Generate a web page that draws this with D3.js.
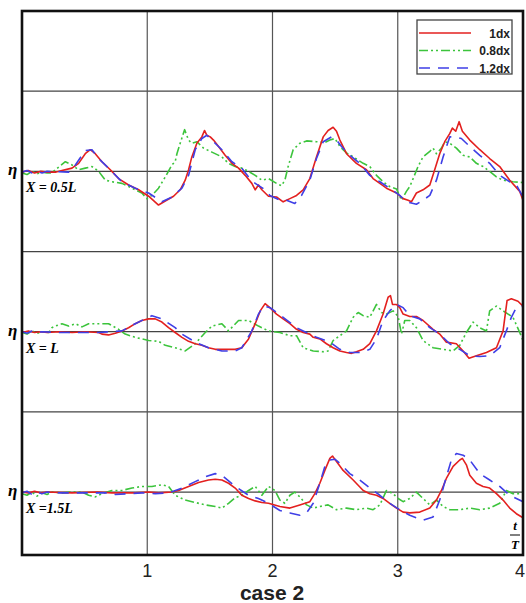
<!DOCTYPE html>
<html>
<head>
<meta charset="utf-8">
<script src="https://cdn.jsdelivr.net/npm/d3@7"></script>
<style>
  body { margin: 0; background: #fff; }
  svg { display: block; }
</style>
</head>
<body>
<script>
// wave elevation at three gauges, three grid sizes (case 2)
const xTicks = [1, 2, 3, 4];
const seriesNames = ["1dx", "0.8dx", "1.2dx"];
const gaugeLabels = ["X = 0.5L", "X = L", "X =1.5L"];
const gaugeOffsets = [0, -2, -4];

// X = 0.5L
const red1 = [[0,-0.01],[0.05,0.01],[0.1,-0.02],[0.15,0.0],[0.2,-0.01],[0.266,-0.01],[0.319,0.01],[0.399,0.04],[0.452,0.10],[0.505,0.22],[0.545,0.27],[0.585,0.22],[0.638,0.12],[0.705,0.02],[0.771,-0.09],[0.851,-0.17],[0.931,-0.23],[1.011,-0.31],[1.090,-0.42],[1.144,-0.37],[1.210,-0.31],[1.263,-0.23],[1.303,-0.11],[1.330,0.02],[1.356,0.18],[1.396,0.35],[1.436,0.43],[1.457,0.51],[1.476,0.45],[1.503,0.43],[1.529,0.39],[1.569,0.31],[1.622,0.20],[1.676,0.10],[1.729,0.04],[1.782,-0.05],[1.835,-0.15],[1.862,-0.23],[1.888,-0.17],[1.915,-0.23],[1.968,-0.31],[2.032,-0.32],[2.085,-0.38],[2.139,-0.34],[2.192,-0.30],[2.245,-0.23],[2.298,-0.09],[2.351,0.18],[2.405,0.43],[2.444,0.51],[2.484,0.55],[2.511,0.50],[2.538,0.39],[2.591,0.22],[2.670,0.10],[2.750,0.02],[2.803,-0.09],[2.857,-0.15],[2.910,-0.21],[2.990,-0.27],[3.043,-0.34],[3.083,-0.36],[3.109,-0.38],[3.149,-0.27],[3.202,-0.23],[3.256,-0.17],[3.295,0.02],[3.335,0.22],[3.375,0.37],[3.415,0.47],[3.436,0.54],[3.463,0.50],[3.490,0.62],[3.516,0.50],[3.575,0.39],[3.655,0.27],[3.734,0.16],[3.814,0.06],[3.894,-0.11],[3.974,-0.25],[4.0,-0.36]];
const green1 = [[0,-0.02],[0.04,-0.04],[0.08,0.0],[0.12,-0.03],[0.16,-0.01],[0.2,-0.02],[0.239,-0.02],[0.266,0.02],[0.346,0.12],[0.399,0.08],[0.452,0.02],[0.505,0.04],[0.559,0.06],[0.612,0.0],[0.665,-0.11],[0.718,-0.13],[0.798,-0.15],[0.878,-0.21],[0.957,-0.27],[0.997,-0.34],[1.037,-0.30],[1.090,-0.21],[1.144,-0.07],[1.197,0.08],[1.223,0.12],[1.237,0.22],[1.263,0.35],[1.298,0.52],[1.330,0.39],[1.356,0.35],[1.396,0.37],[1.449,0.29],[1.516,0.24],[1.596,0.18],[1.649,0.10],[1.702,0.06],[1.755,0.04],[1.809,0.0],[1.862,-0.05],[1.915,-0.11],[1.968,-0.09],[2.032,-0.15],[2.072,-0.18],[2.099,-0.11],[2.125,0.06],[2.165,0.27],[2.218,0.35],[2.272,0.38],[2.351,0.37],[2.418,0.36],[2.458,0.39],[2.498,0.41],[2.538,0.31],[2.591,0.23],[2.644,0.18],[2.724,0.10],[2.777,0.06],[2.830,-0.05],[2.883,-0.13],[2.936,-0.19],[2.990,-0.22],[3.030,-0.36],[3.069,-0.25],[3.096,-0.19],[3.123,-0.09],[3.162,0.06],[3.202,0.18],[3.256,0.25],[3.282,0.29],[3.309,0.22],[3.349,0.29],[3.375,0.37],[3.415,0.35],[3.468,0.29],[3.522,0.20],[3.575,0.18],[3.628,0.10],[3.681,0.06],[3.734,0.0],[3.788,-0.07],[3.841,-0.11],[3.920,-0.13],[4.0,-0.14]];
const blue1 = [[0,-0.01],[0.04,0.01],[0.08,-0.02],[0.12,0.0],[0.16,-0.02],[0.2,0.0],[0.372,-0.01],[0.426,0.08],[0.505,0.26],[0.559,0.27],[0.612,0.16],[0.691,0.04],[0.798,-0.13],[0.904,-0.21],[1.011,-0.27],[1.117,-0.38],[1.197,-0.32],[1.277,-0.21],[1.330,-0.05],[1.383,0.27],[1.436,0.41],[1.476,0.45],[1.529,0.37],[1.596,0.27],[1.676,0.12],[1.755,0.04],[1.809,-0.07],[1.862,-0.15],[1.941,-0.23],[1.979,-0.30],[2.059,-0.36],[2.112,-0.36],[2.178,-0.40],[2.232,-0.30],[2.298,-0.11],[2.351,0.16],[2.405,0.37],[2.471,0.43],[2.511,0.39],[2.551,0.31],[2.617,0.20],[2.697,0.10],[2.777,-0.05],[2.857,-0.13],[2.936,-0.21],[3.016,-0.30],[3.069,-0.38],[3.149,-0.41],[3.202,-0.36],[3.256,-0.30],[3.309,-0.11],[3.362,0.18],[3.415,0.43],[3.455,0.43],[3.508,0.41],[3.575,0.31],[3.655,0.20],[3.734,0.10],[3.814,-0.05],[3.894,-0.13],[3.947,-0.17],[4.0,-0.32]];

// X = L
const red2 = [[0,-0.01],[0.05,0.01],[0.1,-0.01],[0.15,0.0],[0.2,-0.01],[0.3,0.0],[0.4,-0.01],[0.5,0.0],[0.612,-0.01],[0.638,-0.03],[0.691,-0.04],[0.745,-0.02],[0.798,0.01],[0.851,0.05],[0.904,0.10],[0.957,0.14],[1.011,0.16],[1.064,0.16],[1.117,0.12],[1.170,0.05],[1.223,-0.01],[1.277,-0.07],[1.330,-0.12],[1.383,-0.15],[1.436,-0.17],[1.489,-0.20],[1.543,-0.22],[1.596,-0.22],[1.649,-0.22],[1.702,-0.22],[1.755,-0.20],[1.809,-0.09],[1.862,0.10],[1.902,0.26],[1.941,0.35],[1.979,0.30],[2.032,0.22],[2.085,0.16],[2.139,0.10],[2.192,0.03],[2.245,-0.01],[2.298,-0.03],[2.325,-0.07],[2.378,-0.09],[2.431,-0.15],[2.484,-0.20],[2.538,-0.24],[2.591,-0.26],[2.631,-0.27],[2.670,-0.25],[2.724,-0.22],[2.777,-0.15],[2.830,0.01],[2.883,0.22],[2.923,0.43],[2.942,0.45],[2.958,0.34],[2.990,0.34],[3.016,0.30],[3.043,0.22],[3.096,0.19],[3.149,0.19],[3.202,0.14],[3.282,0.03],[3.335,-0.03],[3.388,-0.13],[3.468,-0.15],[3.522,-0.24],[3.569,-0.33],[3.628,-0.30],[3.708,-0.26],[3.788,-0.20],[3.841,0.01],[3.873,0.39],[3.907,0.41],[3.960,0.38],[4.0,0.32]];
const green2 = [[0,-0.01],[0.04,-0.03],[0.08,0.01],[0.12,-0.02],[0.16,0.0],[0.213,-0.01],[0.239,0.05],[0.266,0.07],[0.319,0.10],[0.372,0.07],[0.426,0.10],[0.479,0.06],[0.532,0.10],[0.612,0.10],[0.691,0.10],[0.771,0.03],[0.824,-0.03],[0.904,-0.07],[1.011,-0.11],[1.090,-0.12],[1.144,-0.17],[1.223,-0.20],[1.303,-0.24],[1.383,-0.15],[1.463,-0.01],[1.516,0.07],[1.596,0.10],[1.649,0.01],[1.729,0.14],[1.809,0.14],[1.888,0.07],[1.968,0.01],[2.059,-0.01],[2.139,-0.05],[2.192,-0.05],[2.245,-0.20],[2.325,-0.24],[2.405,-0.25],[2.444,-0.24],[2.484,-0.11],[2.538,-0.05],[2.591,0.01],[2.644,0.18],[2.684,0.24],[2.724,0.20],[2.777,0.18],[2.830,0.34],[2.870,0.24],[2.910,0.22],[2.963,0.26],[3.003,0.19],[3.030,-0.03],[3.056,0.14],[3.096,0.14],[3.149,0.05],[3.202,-0.11],[3.282,-0.20],[3.362,-0.22],[3.442,-0.24],[3.495,-0.17],[3.548,-0.01],[3.601,0.12],[3.655,0.05],[3.708,0.01],[3.734,0.26],[3.788,0.32],[3.841,0.26],[3.920,0.18],[3.974,-0.01],[4.0,-0.11]];
const blue2 = [[0,0.0],[0.04,-0.02],[0.08,0.01],[0.12,-0.01],[0.16,0.0],[0.3,-0.01],[0.612,-0.01],[0.798,0.01],[0.904,0.10],[1.037,0.20],[1.117,0.16],[1.223,0.05],[1.277,-0.03],[1.383,-0.13],[1.489,-0.20],[1.596,-0.24],[1.702,-0.24],[1.755,-0.20],[1.835,0.01],[1.888,0.22],[1.928,0.32],[1.981,0.30],[2.032,0.24],[2.085,0.18],[2.192,0.05],[2.245,0.01],[2.351,-0.07],[2.458,-0.13],[2.538,-0.22],[2.617,-0.26],[2.697,-0.26],[2.777,-0.22],[2.830,-0.09],[2.883,0.14],[2.936,0.26],[2.990,0.34],[3.043,0.30],[3.096,0.20],[3.176,0.16],[3.256,0.05],[3.335,-0.03],[3.415,-0.15],[3.495,-0.22],[3.575,-0.30],[3.655,-0.31],[3.734,-0.30],[3.814,-0.20],[3.867,0.01],[3.907,0.18],[3.947,0.30],[4.0,0.32]];

// X = 1.5L
const red3 = [[0,0.0],[0.05,-0.01],[0.1,0.01],[0.15,-0.01],[0.2,0.0],[0.4,-0.01],[0.6,0.0],[0.718,-0.01],[0.904,-0.01],[1.011,0.0],[1.090,-0.01],[1.197,0.0],[1.250,0.02],[1.330,0.07],[1.410,0.12],[1.489,0.15],[1.543,0.16],[1.596,0.15],[1.649,0.11],[1.702,0.05],[1.755,-0.04],[1.809,-0.08],[1.862,-0.11],[1.915,-0.13],[1.968,-0.14],[2.059,-0.18],[2.139,-0.20],[2.218,-0.16],[2.298,-0.12],[2.338,-0.02],[2.378,0.11],[2.418,0.27],[2.458,0.42],[2.479,0.45],[2.511,0.38],[2.564,0.27],[2.644,0.15],[2.724,0.02],[2.777,-0.02],[2.830,-0.04],[2.883,-0.08],[2.936,-0.14],[2.990,-0.20],[3.043,-0.25],[3.096,-0.26],[3.176,-0.25],[3.256,-0.20],[3.309,-0.10],[3.349,0.02],[3.388,0.17],[3.442,0.32],[3.495,0.40],[3.516,0.42],[3.548,0.34],[3.575,0.21],[3.628,0.11],[3.681,0.07],[3.734,0.05],[3.788,-0.02],[3.841,-0.10],[3.894,-0.20],[3.947,-0.27],[4.0,-0.32]];
const green3 = [[0,-0.02],[0.04,-0.04],[0.08,0.0],[0.12,-0.05],[0.16,-0.01],[0.2,-0.03],[0.24,0.0],[0.319,-0.01],[0.399,0.0],[0.479,0.0],[0.532,-0.04],[0.585,-0.06],[0.638,-0.02],[0.718,0.02],[0.798,0.02],[0.878,0.05],[0.957,0.07],[1.037,0.07],[1.117,0.09],[1.170,0.07],[1.223,-0.04],[1.303,-0.10],[1.383,-0.13],[1.463,-0.16],[1.543,-0.18],[1.596,-0.20],[1.649,-0.14],[1.702,-0.07],[1.755,-0.04],[1.809,0.02],[1.862,0.07],[1.915,-0.04],[1.968,0.07],[2.019,0.02],[2.059,-0.10],[2.099,-0.14],[2.139,-0.04],[2.178,0.0],[2.218,-0.06],[2.272,-0.16],[2.325,-0.20],[2.378,-0.18],[2.444,-0.16],[2.511,-0.22],[2.591,-0.20],[2.670,-0.22],[2.750,-0.20],[2.803,-0.22],[2.857,-0.16],[2.910,0.02],[2.963,-0.02],[3.003,-0.08],[3.043,-0.12],[3.096,-0.08],[3.149,0.0],[3.202,-0.08],[3.256,-0.16],[3.309,-0.10],[3.362,-0.18],[3.415,-0.22],[3.495,-0.22],[3.575,-0.20],[3.655,-0.22],[3.734,-0.20],[3.814,-0.14],[3.867,0.02],[3.920,-0.02],[3.974,-0.02],[4.0,0.0]];
const blue3 = [[0,-0.01],[0.04,0.01],[0.08,-0.03],[0.12,0.0],[0.16,-0.02],[0.2,0.0],[0.3,-0.01],[0.5,-0.01],[0.691,-0.01],[0.745,-0.03],[0.851,-0.02],[0.957,-0.01],[1.064,-0.02],[1.170,-0.01],[1.277,0.05],[1.383,0.13],[1.463,0.19],[1.543,0.23],[1.596,0.21],[1.702,0.07],[1.809,-0.04],[1.888,-0.08],[1.968,-0.14],[2.059,-0.23],[2.139,-0.26],[2.218,-0.29],[2.272,-0.26],[2.325,-0.14],[2.378,0.11],[2.418,0.32],[2.458,0.40],[2.498,0.41],[2.538,0.36],[2.617,0.23],[2.697,0.15],[2.777,0.05],[2.857,-0.04],[2.936,-0.14],[3.016,-0.22],[3.096,-0.29],[3.149,-0.32],[3.202,-0.35],[3.282,-0.31],[3.335,-0.10],[3.388,0.19],[3.428,0.40],[3.468,0.48],[3.522,0.46],[3.575,0.40],[3.655,0.23],[3.734,0.15],[3.814,0.07],[3.894,-0.04],[3.947,-0.08],[4.0,-0.12]];

const panels = [
  { red: red1, green: green1, blue: blue1 },
  { red: red2, green: green2, blue: blue2 },
  { red: red3, green: green3, blue: blue3 }
];

const colors = { red: "#e3201f", green: "#3cc43c", blue: "#3f3fe6" };
const dashes = { red: null, green: "9,3,2,3,2,3", blue: "11,8" };

const width = 526, height = 603;
const m = { left: 22, right: 523, top: 11, bottom: 555 };

const svg = d3.select("body").append("svg").attr("width", width).attr("height", height);

const x = d3.scaleLinear().domain([0, 4]).range([m.left, m.right]);
const y = d3.scaleLinear().domain([-4.785, 2]).range([m.bottom, m.top]);

// grid
const g = svg.append("g");
g.selectAll(".hgrid").data([1, 0, -1, -2, -3, -4]).enter().append("line")
  .attr("x1", m.left).attr("x2", m.right)
  .attr("y1", d => y(d)).attr("y2", d => y(d))
  .attr("stroke", "#444").attr("stroke-width", 1.2);
g.selectAll(".vgrid").data([1, 2, 3]).enter().append("line")
  .attr("x1", d => x(d)).attr("x2", d => x(d))
  .attr("y1", m.top).attr("y2", m.bottom)
  .attr("stroke", "#555").attr("stroke-width", 1.2);

svg.append("clipPath").attr("id", "clip").append("rect")
  .attr("x", m.left).attr("y", m.top).attr("width", m.right - m.left).attr("height", m.bottom - m.top);

const plot = svg.append("g").attr("clip-path", "url(#clip)");

panels.forEach((p, i) => {
  const off = gaugeOffsets[i];
  const line = d3.line().x(d => x(d[0])).y(d => y(d[1] + off));
  ["green", "red", "blue"].forEach(k => {
    plot.append("path")
      .attr("d", line(p[k]))
      .attr("fill", "none")
      .attr("stroke", colors[k])
      .attr("stroke-width", 1.6)
      .attr("stroke-dasharray", dashes[k])
      .attr("stroke-linejoin", "round");
  });

  svg.append("text")
    .attr("x", 8).attr("y", y(off) + 4)
    .attr("font-family", "Liberation Serif, Times New Roman, serif")
    .attr("font-style", "italic").attr("font-weight", "bold")
    .attr("font-size", 17)
    .text("η");
  svg.append("text")
    .attr("x", 26).attr("y", y(off) + 21)
    .attr("font-family", "Liberation Serif, Times New Roman, serif")
    .attr("font-style", "italic").attr("font-weight", "bold")
    .attr("font-size", 14)
    .text(gaugeLabels[i]);
});

// frame
svg.append("rect")
  .attr("x", m.left).attr("y", m.top).attr("width", m.right - m.left).attr("height", m.bottom - m.top)
  .attr("fill", "none").attr("stroke", "#111").attr("stroke-width", 2.6);

// x tick labels (last one nudged in so it stays on the page)
svg.selectAll(".tick").data(xTicks).enter().append("text")
  .attr("x", d => Math.min(x(d), width - 6)).attr("y", 577)
  .attr("text-anchor", "middle")
  .attr("font-family", "Liberation Sans, Arial, sans-serif")
  .attr("font-size", 18).attr("fill", "#222")
  .text(d => d);

svg.append("text")
  .attr("x", 272).attr("y", 600)
  .attr("text-anchor", "middle")
  .attr("font-family", "Liberation Sans, Arial, sans-serif")
  .attr("font-size", 21).attr("font-weight", "bold").attr("fill", "#222")
  .text("case 2");

// t/T
const frac = svg.append("g")
  .attr("font-family", "Liberation Serif, Times New Roman, serif")
  .attr("font-style", "italic").attr("font-weight", "bold")
  .attr("font-size", 13).attr("text-anchor", "middle");
frac.append("text").attr("x", 515).attr("y", 530).text("t");
frac.append("line").attr("x1", 510).attr("x2", 520).attr("y1", 535).attr("y2", 535)
  .attr("stroke", "#000").attr("stroke-width", 1);
frac.append("text").attr("x", 515).attr("y", 549).text("T");

// legend
const lg = svg.append("g");
lg.append("rect").attr("x", 417).attr("y", 20).attr("width", 95).attr("height", 54)
  .attr("fill", "#fff").attr("stroke", "#444").attr("stroke-width", 1.3);
const keys = ["red", "green", "blue"];
keys.forEach((k, i) => {
  const yy = 33 + i * 17.5;
  lg.append("line").attr("x1", 419).attr("x2", 471).attr("y1", yy).attr("y2", yy)
    .attr("stroke", colors[k]).attr("stroke-width", 1.6)
    .attr("stroke-dasharray", dashes[k]);
  lg.append("text").attr("x", 510).attr("y", yy + 4.5)
    .attr("text-anchor", "end")
    .attr("font-family", "Liberation Sans, Arial, sans-serif")
    .attr("font-size", 12).attr("font-weight", "bold").attr("fill", "#222")
    .text(seriesNames[i]);
});
</script>
</body>
</html>
